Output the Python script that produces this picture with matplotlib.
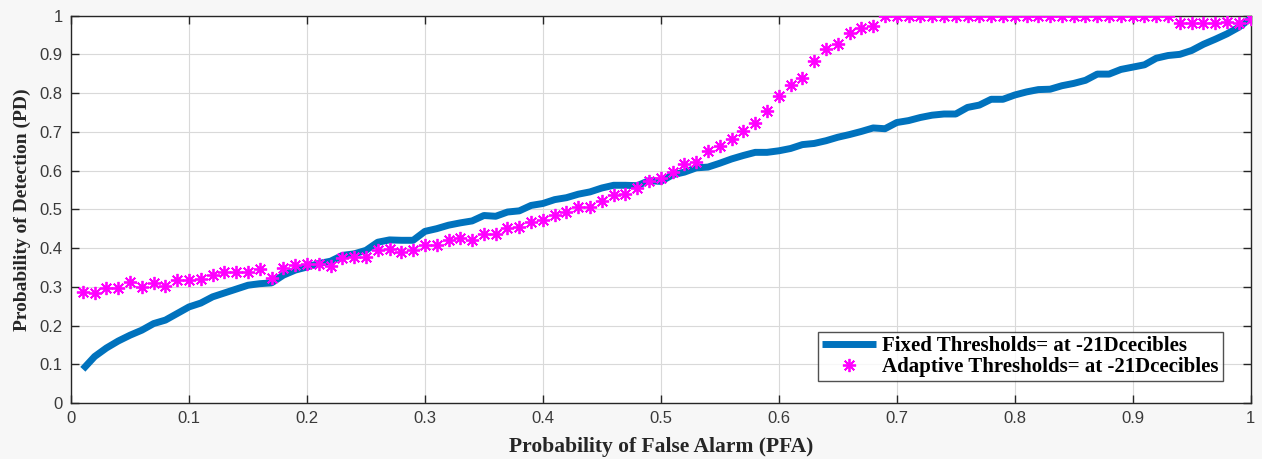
import numpy as np
import matplotlib
matplotlib.use("Agg")
import matplotlib.pyplot as plt

# probability of false alarm, 0.01 .. 1.00
pfa = np.round(np.arange(1, 101) * 0.01, 2)

# fixed threshold detection curve
pd_fixed = [
    0.087, 0.120, 0.142, 0.160, 0.175, 0.188, 0.205, 0.214, 0.231, 0.248,
    0.258, 0.274, 0.284, 0.294, 0.304, 0.308, 0.310, 0.330, 0.343, 0.351,
    0.360, 0.366, 0.381, 0.385, 0.394, 0.415, 0.421, 0.420, 0.420, 0.443,
    0.450, 0.459, 0.465, 0.470, 0.484, 0.482, 0.493, 0.496, 0.510, 0.515,
    0.525, 0.530, 0.539, 0.545, 0.555, 0.562, 0.562, 0.561, 0.574, 0.572,
    0.589, 0.596, 0.607, 0.609, 0.619, 0.630, 0.639, 0.647, 0.647, 0.651,
    0.657, 0.667, 0.670, 0.677, 0.686, 0.693, 0.701, 0.710, 0.708, 0.724,
    0.729, 0.737, 0.743, 0.746, 0.746, 0.763, 0.769, 0.784, 0.784, 0.795,
    0.803, 0.809, 0.810, 0.819, 0.825, 0.833, 0.849, 0.849, 0.861, 0.867,
    0.873, 0.890, 0.897, 0.900, 0.910, 0.926, 0.939, 0.953, 0.970, 0.993,
]

# adaptive threshold detection curve
pd_adaptive = [
    0.287, 0.283, 0.298, 0.296, 0.313, 0.300, 0.309, 0.303, 0.317, 0.317,
    0.319, 0.330, 0.337, 0.337, 0.339, 0.346, 0.322, 0.348, 0.356, 0.360,
    0.359, 0.354, 0.375, 0.377, 0.377, 0.396, 0.398, 0.390, 0.394, 0.409,
    0.407, 0.420, 0.426, 0.422, 0.436, 0.436, 0.452, 0.455, 0.466, 0.472,
    0.485, 0.492, 0.506, 0.506, 0.521, 0.536, 0.540, 0.556, 0.574, 0.581,
    0.596, 0.616, 0.621, 0.651, 0.664, 0.681, 0.703, 0.722, 0.753, 0.793,
    0.820, 0.838, 0.883, 0.915, 0.927, 0.955, 0.968, 0.973, 1.000, 1.000,
    1.000, 1.000, 1.000, 1.000, 1.000, 1.000, 1.000, 1.000, 1.000, 1.000,
    1.000, 1.000, 1.000, 1.000, 1.000, 1.000, 1.000, 1.000, 1.000, 1.000,
    1.000, 1.000, 1.000, 0.980, 0.980, 0.980, 0.980, 0.983, 0.982, 0.990,
]

labels = ["Fixed Thresholds= at -21Dcecibles",
          "Adaptive Thresholds= at -21Dcecibles"]

serif = ["Liberation Serif", "DejaVu Serif"]
sans = ["Liberation Sans", "DejaVu Sans"]

fig = plt.figure(figsize=(12.62, 4.59), dpi=100, facecolor="#f7f7f7")
ax = fig.add_axes([0.0563, 0.122, 0.9347, 0.844])
ax.set_facecolor("white")

ax.plot(pfa, pd_fixed, color="#0072BD", linewidth=5, solid_capstyle="butt",
        label=labels[0], zorder=3)
ax.plot(pfa, pd_adaptive, linestyle="none", marker=(8, 2, 0), markersize=9.5,
        markeredgewidth=1.3, color="#FF00FF", label=labels[1], zorder=4)

ax.set_xlim(0, 1)
ax.set_ylim(0, 1)
ax.set_xticks(np.arange(0, 1.01, 0.1))
ax.set_yticks(np.arange(0, 1.01, 0.1))
ax.set_xticklabels(["0"] + [f"{v:.1f}" for v in np.arange(0.1, 0.95, 0.1)] + ["1"])
ax.set_yticklabels(["0"] + [f"{v:.1f}" for v in np.arange(0.1, 0.95, 0.1)] + ["1"])
ax.grid(True, color="#d9d9d9", linewidth=0.8)
ax.set_axisbelow(True)
ax.tick_params(direction="in", top=True, right=True, length=6, width=1,
               color="#262626", labelcolor="#3a3a3a", labelsize=12, pad=6)
for lab in ax.get_xticklabels() + ax.get_yticklabels():
    lab.set_family(sans)
for s in ax.spines.values():
    s.set_color("#262626")
    s.set_linewidth(1)

ax.set_xlabel("Probability of False Alarm (PFA)", family=serif,
              fontweight="bold", fontsize=15.5, color="#262626", labelpad=8)
ax.set_ylabel("Probability of Detection (PD)", family=serif,
              fontweight="bold", fontsize=14, color="#262626", labelpad=6)

leg = ax.legend(loc="lower right", bbox_to_anchor=(0.98, 0.045),
                prop={"family": serif, "weight": "bold", "size": 15},
                frameon=True, fancybox=False, edgecolor="#262626",
                handlelength=2.6, handletextpad=0.3, borderpad=0.2,
                labelspacing=0.05, borderaxespad=0.2)
leg.get_frame().set_linewidth(1)

fig.savefig("out.png", dpi=100, facecolor=fig.get_facecolor())
